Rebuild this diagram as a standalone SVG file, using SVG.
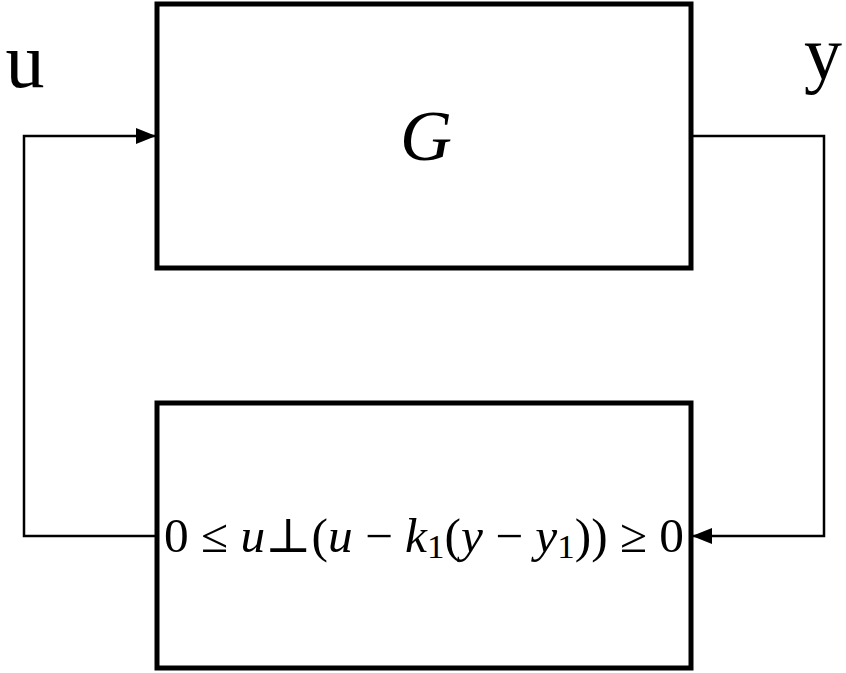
<svg xmlns="http://www.w3.org/2000/svg" width="846" height="673" viewBox="0 0 846 673">
<style>
.box{fill:none;stroke:#000;stroke-width:5}
.wire{fill:none;stroke:#000;stroke-width:2.5}
.t{font-family:"Liberation Serif","DejaVu Serif",serif;fill:#000}
.i{font-style:italic}
</style>
<defs>
<marker id="ah" viewBox="0 0 20 16" refX="20" refY="8" markerWidth="20" markerHeight="16" markerUnits="userSpaceOnUse" orient="auto">
<path d="M0,0 L20,8 L0,16 Z" fill="#000"/>
</marker>
</defs>
<rect width="846" height="673" fill="#fff"/>
<g id="connectors">
<path class="wire" d="M155,536 H24 V136 H156" marker-end="url(#ah)"/>
<path class="wire" d="M692,136 H824 V536 H692" marker-end="url(#ah)"/>
</g>
<g id="G">
<rect class="box" x="157" y="4" width="534" height="264"/>
<text class="t i" x="426" y="160" font-size="72" text-anchor="middle">G</text>
</g>
<g id="constraint">
<rect class="box" x="157" y="403" width="534" height="265"/>
<text class="t" x="424" y="552" font-size="48" text-anchor="middle" textLength="520" lengthAdjust="spacingAndGlyphs">0 ≤ <tspan class="i">u</tspan>⊥(<tspan class="i">u</tspan> − <tspan class="i">k</tspan><tspan font-size="34" dy="6">1</tspan><tspan dy="-6">(</tspan><tspan class="i">y</tspan> − <tspan class="i">y</tspan><tspan font-size="34" dy="6">1</tspan><tspan dy="-6">)) ≥ 0</tspan></text>
</g>
<g id="labels">
<text class="t" x="25" y="87" font-size="78" text-anchor="middle">u</text>
<text class="t" x="823" y="79" font-size="76" text-anchor="middle">y</text>
</g>
</svg>
